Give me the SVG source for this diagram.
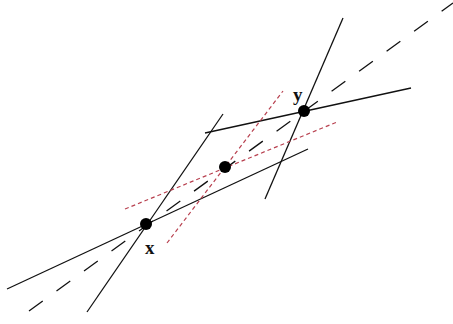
<svg xmlns="http://www.w3.org/2000/svg" width="453" height="324" viewBox="0 0 453 324">
<style>
.l{stroke:#111;stroke-width:1.3;fill:none}
.d{stroke:#111;stroke-width:1.3;fill:none;stroke-dasharray:17 17}
.r{stroke:#b8404f;stroke-width:1.2;fill:none;stroke-dasharray:4 3}
.p{fill:#000}
text{font-family:"Liberation Serif",serif;font-size:19px;font-weight:bold;fill:#111}
</style>
<rect width="453" height="324" fill="#fff"/>
<g id="connectors">
<line class="d" x1="29" y1="311" x2="453" y2="3"/>
<line class="l" x1="7" y1="289" x2="308" y2="149"/>
<line class="l" x1="87" y1="312" x2="223" y2="114"/>
<line class="l" x1="343" y1="18" x2="265" y2="199"/>
<line class="l" x1="205" y1="133" x2="411" y2="88"/>
<line class="r" x1="125" y1="209" x2="337" y2="122"/>
<line class="r" x1="167" y1="243" x2="283" y2="91"/>
</g>
<g id="x"><circle class="p" cx="146" cy="224" r="6"/><text x="145" y="254">x</text></g>
<g id="y"><circle class="p" cx="304" cy="111" r="6"/><text x="293" y="101">y</text></g>
<g id="m"><circle class="p" cx="225" cy="167" r="6"/></g>
</svg>
